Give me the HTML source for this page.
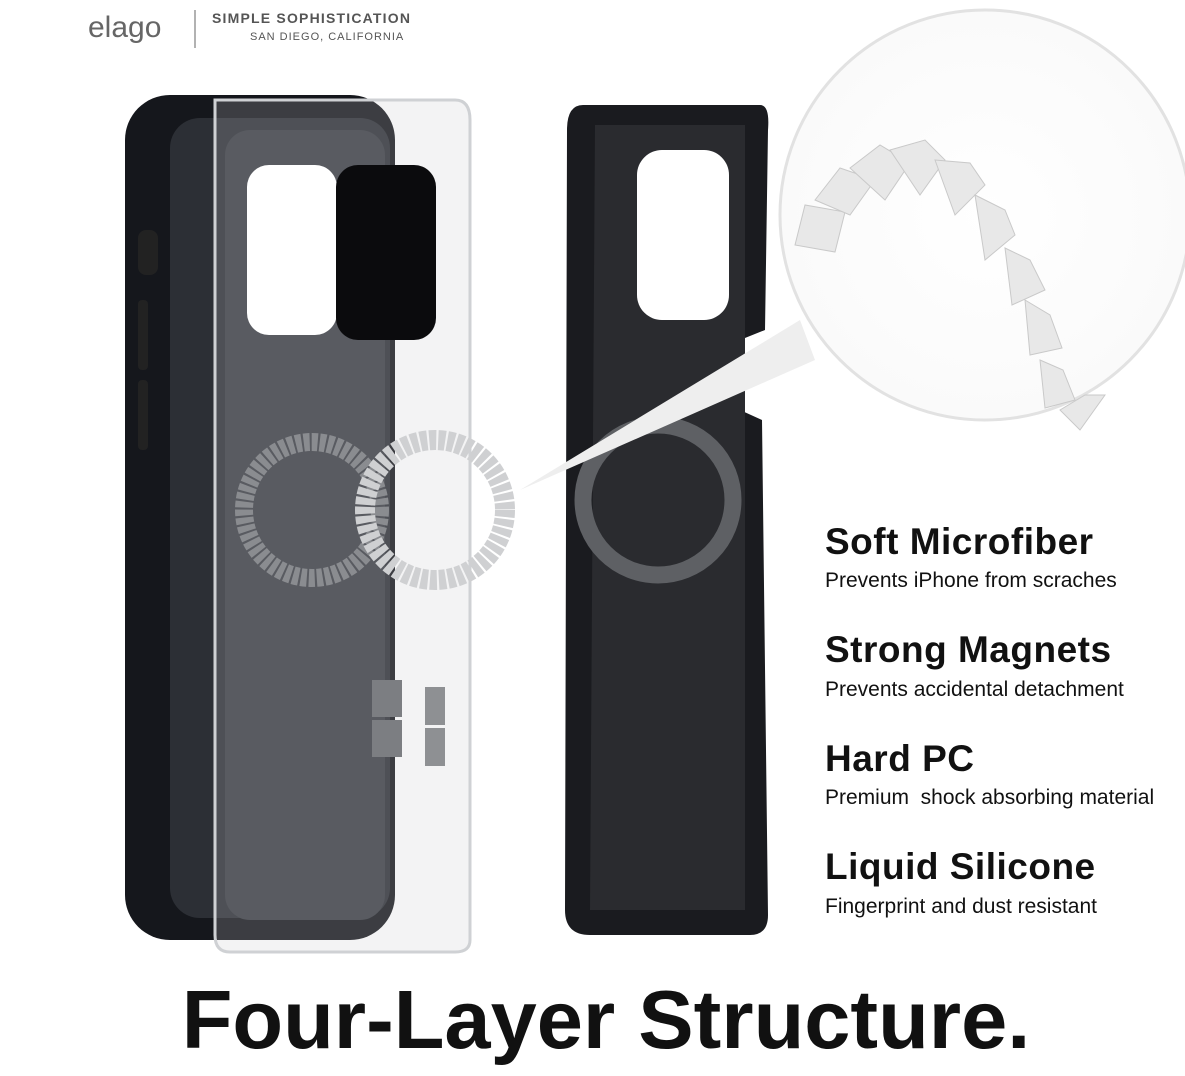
<!DOCTYPE html>
<html><head><meta charset="utf-8"><style>
html,body{margin:0;padding:0;background:#fff;}
body{width:1185px;height:1076px;position:relative;overflow:hidden;font-family:"Liberation Sans",sans-serif;}
.t{position:absolute;left:825px;color:#111;}
.h{font-size:37px;font-weight:bold;letter-spacing:0.5px;}
.s{font-size:21px;}
</style></head><body>
<svg width="1185" height="1076" style="position:absolute;left:0;top:0">
<defs>
<radialGradient id="g1" cx="0.5" cy="0.5" r="0.6"><stop offset="0" stop-color="#fff"/><stop offset="0.85" stop-color="#fafafa"/><stop offset="1" stop-color="#e6e6e6"/></radialGradient>
</defs>
<rect x="125" y="95" width="270" height="845" rx="45" fill="#15171c"/>
<rect x="170" y="118" width="220" height="800" rx="30" fill="#2c2f35"/>
<rect x="138" y="230" width="20" height="45" rx="8" fill="#222"/>
<rect x="138" y="300" width="10" height="70" rx="4" fill="#222"/>
<rect x="138" y="380" width="10" height="70" rx="4" fill="#222"/>
<rect x="225" y="130" width="160" height="790" rx="25" fill="#3a3d43"/>
<path d="M215 100 L455 100 Q470 100 470 120 L470 940 Q470 952 455 952 L230 952 Q215 952 215 935 Z" fill="#c8cacf" fill-opacity="0.22" stroke="#cfd1d4" stroke-width="3"/>
<rect x="247" y="165" width="90" height="170" rx="22" fill="#fff"/>
<rect x="336" y="165" width="100" height="175" rx="22" fill="#0b0b0d"/>
<circle cx="312" cy="510" r="68" fill="none" stroke="#8a8c90" stroke-width="18" stroke-dasharray="6 2"/>
<circle cx="435" cy="510" r="70" fill="none" stroke="#cfd0d2" stroke-width="20" stroke-dasharray="7 2"/>
<rect x="372" y="680" width="30" height="37" fill="#7c7e82"/><rect x="372" y="720" width="30" height="37" fill="#7c7e82"/>
<rect x="425" y="687" width="20" height="38" fill="#8e9093"/><rect x="425" y="728" width="20" height="38" fill="#8e9093"/>
<path d="M583 105 L760 105 Q770 105 768 130 L765 330 L740 340 L740 410 L762 420 L768 915 Q768 935 750 935 L590 935 Q565 935 565 910 L567 130 Q567 105 583 105 Z" fill="#1a1b1f"/>
<path d="M595 125 L745 125 L745 910 L590 910 Z" fill="#2a2b2f"/>
<rect x="637" y="150" width="92" height="170" rx="25" fill="#fff"/>
<circle cx="658" cy="500" r="75" fill="none" stroke="#5e6064" stroke-width="17"/>
<polygon points="520,490 800,320 815,360" fill="#eeeeee"/>
<circle cx="985" cy="215" r="205" fill="url(#g1)" stroke="#e2e2e2" stroke-width="3"/>
<g fill="#e8e8e8" stroke="#c9c9c9" stroke-width="1">
<polygon points="795,245 805,205 845,212 835,252"/>
<polygon points="815,200 840,168 875,180 850,215"/>
<polygon points="850,168 880,145 910,163 885,200"/>
<polygon points="890,150 925,140 945,160 920,195"/>
<polygon points="935,160 970,163 985,185 955,215"/>
<polygon points="975,195 1005,210 1015,235 985,260"/>
<polygon points="1005,248 1030,260 1045,290 1012,305"/>
<polygon points="1025,300 1050,315 1062,348 1030,355"/>
<polygon points="1040,360 1063,370 1075,400 1045,408"/>
<polygon points="1060,410 1085,395 1105,395 1080,430"/>
</g>
<text x="88" y="37" font-family="Liberation Sans,sans-serif" font-size="30" fill="#666">elago</text>
<line x1="195" y1="10" x2="195" y2="48" stroke="#999" stroke-width="1.5"/>
<text x="212" y="23" font-family="Liberation Sans,sans-serif" font-size="14" font-weight="bold" fill="#555" letter-spacing="1.2">SIMPLE SOPHISTICATION</text>
<text x="250" y="40" font-family="Liberation Sans,sans-serif" font-size="11" fill="#555" letter-spacing="1">SAN DIEGO, CALIFORNIA</text>
</svg>
<div class="t h" style="top:521px">Soft Microfiber</div>
<div class="t s" style="top:569px">Prevents iPhone from scraches</div>
<div class="t h" style="top:629px">Strong Magnets</div>
<div class="t s" style="top:678px">Prevents accidental detachment</div>
<div class="t h" style="top:738px">Hard PC</div>
<div class="t s" style="top:786px">Premium&nbsp; shock absorbing material</div>
<div class="t h" style="top:846px">Liquid Silicone</div>
<div class="t s" style="top:895px">Fingerprint and dust resistant</div>
<div style="position:absolute;left:0;width:1212px;top:972px;text-align:center;font-size:83px;font-weight:bold;color:#111;">Four-Layer Structure.</div>
</body></html>
